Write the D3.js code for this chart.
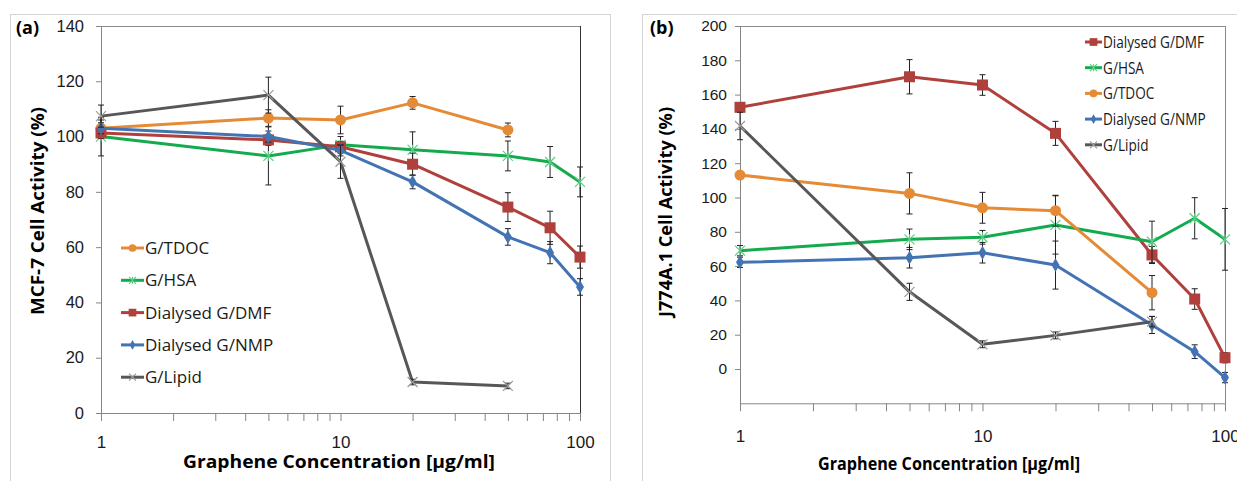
<!DOCTYPE html>
<html>
<head>
<meta charset="utf-8">
<script src="https://cdn.jsdelivr.net/npm/d3@7"></script>
<style>
  body { margin: 0; background: #fff; }
  svg { display: block; font-family: "Open Sans", "Noto Sans", sans-serif; }
  .axis path, .axis line { stroke: #868686; }
  .axis text { fill: #1a1a1a; }
</style>
</head>
<body>
<svg width="1237" height="481"></svg>
<script>
// concentrations (µg/ml)
const conc = [1, 5, 10, 20, 50, 75, 100];
const minorTicks = [1, 2, 3, 4, 5, 6, 7, 8, 9, 10, 20, 30, 40, 50, 60, 70, 80, 90, 100];

// panel (a) MCF-7
const a_TDOC = [103, 106.7, 106, 112.2, 102.4, null, null];
const a_TDOC_err = [3, 3, 5, 2.3, 2.5, null, null];
const a_HSA = [100, 93, 97, 95.2, 93, 90.8, 83.6];
const a_HSA_err = [7, 10.5, 3, 6.5, 5.4, 5.6, 5.4];
const a_DMF = [101.3, 98.8, 96.3, 90, 74.5, 67, 56.4];
const a_DMF_err = [2, 2, 2, 4, 5.2, 6, 4];
const a_NMP = [103, 100, 95, 83.6, 63.7, 58, 45.6];
const a_NMP_err = [2, 2, 2, 2.5, 3, 4, 3];
const a_Lipid = [107.4, 115, 90.9, 11.2, 9.8, null, null];
const a_Lipid_err = [4, 6.5, 6, 1, 1, null, null];

// panel (b) J774A.1
const b_DMF = [152.6, 170.4, 165.6, 137.4, 66.5, 40.8, 6.6];
const b_DMF_err = [2, 10, 6, 7, 5, 6, 3];
const b_HSA = [69, 75.6, 76.8, 84, 74.2, 87.9, 75.6];
const b_HSA_err = [3, 6, 4, 17, 12, 12, 18];
const b_TDOC = [113.1, 102.4, 94, 92.3, 44.5, null, null];
const b_TDOC_err = [2, 12, 9, 9, 10, null, null];
const b_NMP = [62.2, 64.9, 67.8, 60.6, 25.7, 10.1, -5];
const b_NMP_err = [3, 6, 6, 14, 5, 4, 3];
const b_Lipid = [141.7, 45, 14.4, 19.6, 27.6, null, null];
const b_Lipid_err = [8, 5, 2, 2, 3, null, null];

const yTicksA = [0, 20, 40, 60, 80, 100, 120, 140];
const yTicksB = [0, 20, 40, 60, 80, 100, 120, 140, 160, 180, 200];

const colors = {
  TDOC: '#E58A35', HSA: '#14AB4E', DMF: '#B0403C', NMP: '#4373B3', Lipid: '#575757'
};
const light = {
  TDOC: '#E58A35', HSA: '#5FCB86', DMF: '#B0403C', NMP: '#4373B3', Lipid: '#9a9a9a'
};

const svg = d3.select('svg');

// outer chart borders
svg.append('rect').attr('x', 10.5).attr('y', 14.5).attr('width', 600).attr('height', 500)
  .attr('fill', 'none').attr('stroke', '#d4d4d4');
svg.append('rect').attr('x', 642.5).attr('y', 14.5).attr('width', 640).attr('height', 500)
  .attr('fill', 'none').attr('stroke', '#d4d4d4');

function marker(g, kind, cx, cy, s) {
  const c = colors[kind];
  if (kind === 'TDOC') {
    g.append('circle').attr('cx', cx).attr('cy', cy).attr('r', 5.5 * s).attr('fill', c);
  } else if (kind === 'DMF') {
    g.append('rect').attr('x', cx - 5.5 * s).attr('y', cy - 5.5 * s)
      .attr('width', 11 * s).attr('height', 11 * s).attr('fill', c);
  } else if (kind === 'NMP') {
    g.append('path').attr('transform', `translate(${cx},${cy})`)
      .attr('d', d3.symbol(d3.symbolDiamond, 55 * s * s)()).attr('fill', c);
  } else {
    const r = 5 * s;
    let d = `M${cx - r},${cy - r}L${cx + r},${cy + r}M${cx - r},${cy + r}L${cx + r},${cy - r}`;
    if (kind === 'HSA') d += `M${cx},${cy - r}L${cx},${cy + r}`;
    g.append('path').attr('d', d).attr('stroke', light[kind]).attr('stroke-width', 1.2).attr('fill', 'none');
  }
}

function panel(opt) {
  const x = d3.scaleLog().domain([1, 100]).range(opt.xr);
  const y = d3.scaleLinear().domain(opt.yd).range(opt.yr);
  const g = svg.append('g');

  // plot frame
  g.append('line').attr('x1', opt.xr[0]).attr('x2', opt.xr[1]).attr('y1', opt.yr[1] + 0.5).attr('y2', opt.yr[1] + 0.5)
    .attr('stroke', '#8a8a8a');
  g.append('line').attr('x1', opt.xr[1] + 0.5).attr('x2', opt.xr[1] + 0.5).attr('y1', opt.yr[1]).attr('y2', opt.yr[0])
    .attr('stroke', opt.rightColor);

  const yAxis = g.append('g').attr('class', 'axis')
    .attr('transform', `translate(${opt.xr[0]},0)`)
    .call(d3.axisLeft(y).tickValues(opt.yTicks).tickSize(5).tickPadding(opt.yPad).tickSizeOuter(0));
  yAxis.selectAll('text').attr('font-size', opt.tickFont);

  const xAxis = g.append('g').attr('class', 'axis')
    .attr('transform', `translate(0,${opt.yr[0]})`)
    .call(d3.axisBottom(x).tickValues(minorTicks).tickSize(8).tickPadding(opt.xPad).tickSizeOuter(0)
      .tickFormat(d => [1, 10, 100].includes(d) ? d : ''));
  xAxis.selectAll('text').attr('font-size', opt.xTickFont);

  // series
  opt.series.forEach(s => {
    const pts = conc.map((c, i) => ({ c, v: s.vals[i], e: s.err[i] })).filter(p => p.v != null);
    const line = d3.line().x(p => x(p.c)).y(p => y(p.v));
    g.append('path').datum(pts).attr('d', line).attr('fill', 'none')
      .attr('stroke', colors[s.key]).attr('stroke-width', 3).attr('stroke-linejoin', 'round');
    const eb = g.append('g').attr('stroke', '#222').attr('stroke-width', 1);
    pts.forEach(p => {
      const px = x(p.c), y1 = y(p.v - p.e), y2 = y(p.v + p.e);
      eb.append('line').attr('x1', px).attr('x2', px).attr('y1', y1).attr('y2', y2);
      eb.append('line').attr('x1', px - 3).attr('x2', px + 3).attr('y1', y1).attr('y2', y1);
      eb.append('line').attr('x1', px - 3).attr('x2', px + 3).attr('y1', y2).attr('y2', y2);
    });
    pts.forEach(p => marker(g, s.key, x(p.c), y(p.v), 1));
  });

  // legend
  opt.legend.forEach((s, i) => {
    const ly = opt.legY + i * opt.legStep;
    g.append('line').attr('x1', opt.legX).attr('x2', opt.legX + opt.legW).attr('y1', ly).attr('y2', ly)
      .attr('stroke', colors[s.key]).attr('stroke-width', 3);
    marker(g, s.key, opt.legX + opt.legW / 2, ly, 0.7);
    const t = g.append('text').attr('x', opt.legX + opt.legW + 1).attr('y', ly).attr('dy', '0.35em')
      .attr('font-size', opt.legFont).attr('fill', '#1a1a1a').text(s.name);
    if (opt.squeeze) {
      t.attr('textLength', t.node().getComputedTextLength() * opt.squeeze)
        .attr('lengthAdjust', 'spacingAndGlyphs');
    }
  });

  // panel label and titles
  g.append('text').attr('x', opt.lab[0]).attr('y', opt.lab[1]).attr('font-size', 18)
    .attr('font-weight', 'bold').text(opt.label);
  g.append('text').attr('x', opt.xt[0]).attr('y', opt.xt[1]).attr('text-anchor', 'middle')
    .attr('font-size', opt.titleFont).attr('font-weight', 'bold')
    .attr('textLength', opt.xt[2]).attr('lengthAdjust', 'spacingAndGlyphs')
    .text('Graphene Concentration [μg/ml]');
  g.append('text').attr('transform', `translate(${opt.yt[0]},${opt.yt[1]}) rotate(-90)`)
    .attr('text-anchor', 'middle').attr('font-size', opt.titleFont).attr('font-weight', 'bold')
    .attr('textLength', opt.yt[2]).attr('lengthAdjust', 'spacingAndGlyphs')
    .text(opt.ytitle);
}

const seriesA = [
  { key: 'TDOC', name: 'G/TDOC', vals: a_TDOC, err: a_TDOC_err },
  { key: 'HSA', name: 'G/HSA', vals: a_HSA, err: a_HSA_err },
  { key: 'DMF', name: 'Dialysed G/DMF', vals: a_DMF, err: a_DMF_err },
  { key: 'NMP', name: 'Dialysed G/NMP', vals: a_NMP, err: a_NMP_err },
  { key: 'Lipid', name: 'G/Lipid', vals: a_Lipid, err: a_Lipid_err }
];
const seriesB = [
  { key: 'DMF', name: 'Dialysed G/DMF', vals: b_DMF, err: b_DMF_err },
  { key: 'HSA', name: 'G/HSA', vals: b_HSA, err: b_HSA_err },
  { key: 'TDOC', name: 'G/TDOC', vals: b_TDOC, err: b_TDOC_err },
  { key: 'NMP', name: 'Dialysed G/NMP', vals: b_NMP, err: b_NMP_err },
  { key: 'Lipid', name: 'G/Lipid', vals: b_Lipid, err: b_Lipid_err }
];

panel({
  xr: [101, 580], yd: [0, 140], yr: [413, 26], yTicks: yTicksA,
  yPad: 12, xPad: 15, tickFont: 16.5, xTickFont: 17, rightColor: '#333',
  series: seriesA, legend: seriesA, legX: 121, legW: 23, legY: 248, legStep: 32.3, legFont: 17,
  label: '(a)', lab: [16, 34], xt: [339, 468, 312], yt: [44, 211, 208],
  ytitle: 'MCF-7  Cell Activity (%)', titleFont: 18.5
});

panel({
  xr: [740, 1225], yd: [-20, 200], yr: [403.3, 26], yTicks: yTicksB,
  yPad: 8, xPad: 19, tickFont: 15.5, xTickFont: 17, rightColor: '#8a8a8a',
  series: seriesB, legend: seriesB, legX: 1085, legW: 17, legY: 42, legStep: 25.7, legFont: 17,
  squeeze: 0.8,
  label: '(b)', lab: [650, 34], xt: [949, 470, 262], yt: [672, 212, 210],
  ytitle: 'J774A.1  Cell Activity (%)', titleFont: 17
});
</script>
</body>
</html>
